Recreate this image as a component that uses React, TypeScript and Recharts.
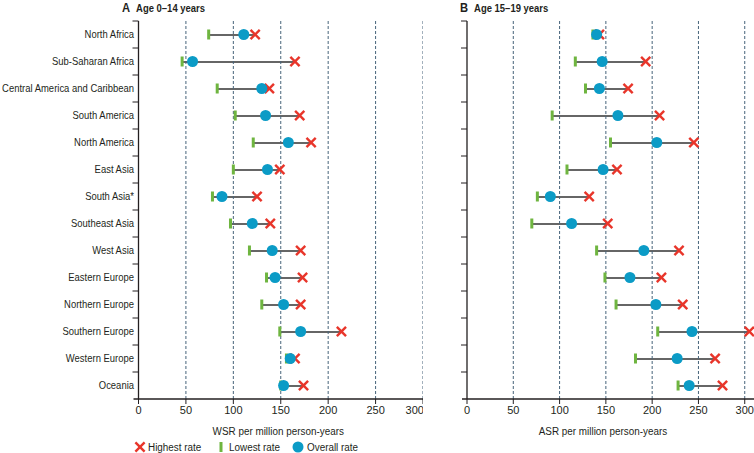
import { ComposedChart, Bar, Line, XAxis, YAxis, Legend, ReferenceLine } from "recharts";

const regions = [
  "North Africa",
  "Sub-Saharan Africa",
  "Central America and Caribbean",
  "South America",
  "North America",
  "East Asia",
  "South Asia*",
  "Southeast Asia",
  "West Asia",
  "Eastern Europe",
  "Northern Europe",
  "Southern Europe",
  "Western Europe",
  "Oceania",
];

// Age 0-14, WSR
const childLowest = [74, 46, 83, 102, 121, 100, 78, 97, 117, 135, 130, 149, 156, 150];
const childOverall = [111, 57, 130, 134, 158, 136, 88, 120, 141, 144, 153, 171, 160, 153];
const childHighest = [123, 165, 138, 170, 182, 149, 125, 139, 171, 173, 171, 214, 165, 174];

// Age 15-19, ASR
const teenLowest = [136, 117, 128, 92, 155, 108, 76, 70, 140, 149, 161, 206, 182, 228];
const teenOverall = [140, 146, 143, 163, 205, 147, 90, 113, 191, 176, 204, 243, 227, 240];
const teenHighest = [143, 193, 174, 208, 245, 162, 132, 152, 229, 210, 233, 305, 268, 276];

const xTicks = [0, 50, 100, 150, 200, 250, 300];
const gridTicks = [50, 100, 150, 200, 250, 300];

const RED = "#e8352a";
const GREEN = "#6fb540";
const BLUE = "#0b9bc6";
const GRID = "#46637a";
const INK = "#231f20";
const FONT = "'Liberation Sans', Arial, sans-serif";
const BAND = 27;
const SQUEEZE = 0.86; // reference face is narrower than anything installed
const OVERHANG = 5; // x axis runs a little past the y axis

const buildRows = (low: number[], overall: number[], high: number[]) =>
  regions.map((name, i) => ({
    name,
    low: low[i],
    overall: overall[i],
    high: high[i],
    range: [low[i], high[i]],
  }));

const childRows = buildRows(childLowest, childOverall, childHighest);
const teenRows = buildRows(teenLowest, teenOverall, teenHighest);

const Cross = (p: any) => {
  if (p.cx == null) return null;
  const s = 4.6;
  return (
    <g key={p.key}>
      <line x1={p.cx - s} y1={p.cy - s} x2={p.cx + s} y2={p.cy + s} stroke={RED} strokeWidth={2.4} />
      <line x1={p.cx - s} y1={p.cy + s} x2={p.cx + s} y2={p.cy - s} stroke={RED} strokeWidth={2.4} />
    </g>
  );
};

const LowMark = (p: any) => {
  if (p.cx == null) return null;
  return <rect key={p.key} x={p.cx - 1.5} y={p.cy - 5} width={3} height={10} fill={GREEN} />;
};

const Dot = (p: any) => {
  if (p.cx == null) return null;
  return <circle key={p.key} cx={p.cx} cy={p.cy} r={5.5} fill={BLUE} />;
};

const RangeLine = (p: any) => {
  const y = p.y + p.height / 2;
  return <line x1={p.x} x2={p.x + p.width} y1={y} y2={y} stroke="#333" strokeWidth={1.5} />;
};

// tick x from recharts = plot left - 8; the drawn y axis sits OVERHANG px further right
const RegionTick = (p: any) => {
  const axisX = p.x + 8 + OVERHANG;
  return (
    <g>
      <line x1={axisX - 6} x2={axisX} y1={p.y - BAND / 2} y2={p.y - BAND / 2} stroke={INK} />
      <g transform={`translate(${axisX - 4.5},${p.y}) scale(${SQUEEZE},1)`}>
        <text x={0} y={0} textAnchor="end" dominantBaseline="central" fontSize={11} fill={INK} fontFamily={FONT}>
          {p.payload.value}
        </text>
      </g>
    </g>
  );
};

const BareTick = (p: any) => {
  const axisX = p.x + 8 + OVERHANG;
  return <line x1={axisX - 6} x2={axisX} y1={p.y - BAND / 2} y2={p.y - BAND / 2} stroke={INK} />;
};

const ScaledText = (p: { x: number; y: number; children: string }) => (
  <g transform={`translate(${p.x},${p.y}) scale(${SQUEEZE},1)`}>
    <text x={0} y={0} dominantBaseline="central" fontSize={11.5} fill={INK} fontFamily={FONT}>
      {p.children}
    </text>
  </g>
);

const LegendContent = () => (
  <svg width={260} height={16}>
    <Cross cx={10} cy={10} />
    <ScaledText x={18} y={10}>Highest rate</ScaledText>
    <LowMark cx={91} cy={10} />
    <ScaledText x={99} y={10}>Lowest rate</ScaledText>
    <Dot cx={168} cy={10} />
    <ScaledText x={177} y={10}>Overall rate</ScaledText>
  </svg>
);

const AxisTitle = (p: any) => {
  const vb = p.viewBox;
  const cx = vb.x + vb.width / 2 + p.shift;
  return (
    <g transform={`translate(${cx},${vb.y + 32}) scale(${SQUEEZE},1)`}>
      <text x={0} y={0} textAnchor="middle" dominantBaseline="central" fontSize={11.5} fill={INK} fontFamily={FONT}>
        {p.value}
      </text>
    </g>
  );
};

function Panel(props: {
  rows: any[];
  width: number;
  yWidth: number;
  domainMax: number;
  title: string;
  titleShift: number;
  labels: boolean;
  legend: boolean;
}) {
  const { rows, width, yWidth, domainMax, title, titleShift, labels, legend } = props;
  return (
    <ComposedChart
      layout="vertical"
      width={width}
      height={453}
      data={rows}
      margin={{ top: 21, right: 0, bottom: legend ? 0 : 16, left: 0 }}
    >
      <XAxis
        type="number"
        domain={[0, domainMax]}
        ticks={xTicks}
        allowDataOverflow
        padding={{ left: OVERHANG, right: 0 }}
        height={38}
        axisLine={{ stroke: INK, strokeWidth: 1.3 }}
        tickLine={{ stroke: INK }}
        tickSize={5}
        tick={{ fontSize: 11, fill: INK, fontFamily: FONT }}
        label={<AxisTitle value={title} shift={titleShift} />}
      />
      <YAxis
        type="category"
        dataKey="name"
        width={yWidth}
        axisLine={false}
        tickLine={false}
        interval={0}
        tick={labels ? <RegionTick /> : <BareTick />}
      />
      {gridTicks.map((t) => (
        <ReferenceLine key={t} x={t} stroke={GRID} strokeDasharray="3 2" />
      ))}
      <ReferenceLine x={0} stroke={INK} strokeWidth={1.3} />
      <Bar dataKey="range" barSize={4} shape={<RangeLine />} isAnimationActive={false} />
      <Line dataKey="high" stroke="none" dot={Cross} activeDot={false} isAnimationActive={false} />
      <Line dataKey="low" stroke="none" dot={LowMark} activeDot={false} isAnimationActive={false} />
      <Line dataKey="overall" stroke="none" dot={Dot} activeDot={false} isAnimationActive={false} />
      {legend && (
        <Legend
          verticalAlign="bottom"
          height={16}
          content={<LegendContent />}
          wrapperStyle={{ left: 130, width: 260 }}
        />
      )}
    </ComposedChart>
  );
}

export default function App() {
  const heading = {
    position: "absolute" as const,
    top: 0,
    fontFamily: FONT,
    fontWeight: 700,
    fontSize: 11,
    color: INK,
    whiteSpace: "nowrap" as const,
    transform: `scaleX(${SQUEEZE})`,
    transformOrigin: "left top",
  };
  return (
    <div style={{ position: "absolute", left: 0, top: 0, width: 754, height: 453, background: "#fff" }}>
      <div style={{ ...heading, left: 122 }}>
        <span style={{ fontSize: 13, marginRight: 7 }}>A</span>Age 0–14 years
      </div>
      <div style={{ ...heading, left: 460 }}>
        <span style={{ fontSize: 13, marginRight: 7 }}>B</span>Age 15–19 years
      </div>
      <div style={{ position: "absolute", left: 0, top: 0 }}>
        <Panel rows={childRows} width={423} yWidth={133.5} domainMax={300} title="WSR per million person-years" titleShift={0} labels legend />
      </div>
      <div style={{ position: "absolute", left: 440, top: 0 }}>
        <Panel rows={teenRows} width={314} yWidth={22} domainMax={310} title="ASR per million person-years" titleShift={-5} labels={false} legend={false} />
      </div>
    </div>
  );
}
